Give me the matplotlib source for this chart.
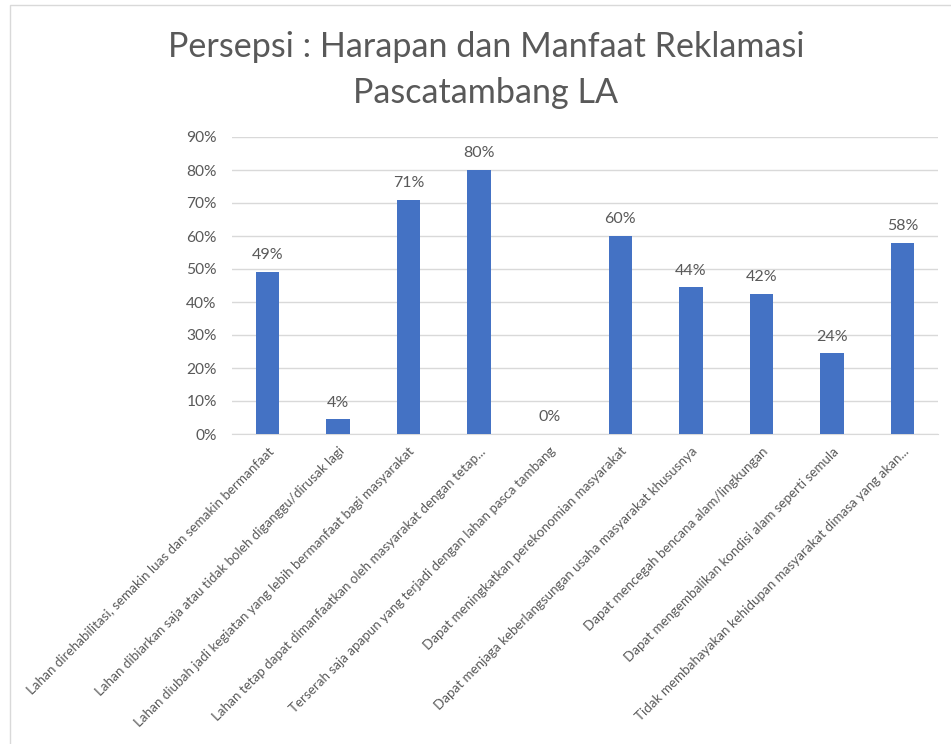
import matplotlib
matplotlib.use("Agg")
import matplotlib.pyplot as plt
import matplotlib.patches as patches
from matplotlib.ticker import PercentFormatter

plt.rcParams['font.family'] = ['Lato', 'DejaVu Sans']

# data
kategori = [
    "Lahan direhabilitasi, semakin luas dan semakin bermanfaat",
    "Lahan dibiarkan saja atau tidak boleh diganggu/dirusak lagi",
    "Lahan diubah jadi kegiatan yang lebih bermanfaat bagi masyarakat",
    "Lahan tetap dapat dimanfaatkan oleh masyarakat dengan tetap...",
    "Terserah saja apapun yang terjadi dengan lahan pasca tambang",
    "Dapat meningkatkan perekonomian masyarakat",
    "Dapat menjaga keberlangsungan usaha masyarakat khususnya",
    "Dapat mencegah bencana alam/lingkungan",
    "Dapat mengembalikan kondisi alam seperti semula",
    "Tidak membahayakan kehidupan masyarakat dimasa yang akan...",
]
persen = [49, 4.4, 71, 80, 0, 60, 44.4, 42.4, 24.4, 58]
y_ticks = [0, 10, 20, 30, 40, 50, 60, 70, 80, 90]

abu = '#595959'
biru = '#4472C4'

fig = plt.figure(figsize=(9.51, 7.44), dpi=100)
ax = fig.add_axes([232 / 951, 1 - 434 / 744, 706 / 951, 297 / 744])

x = range(len(kategori))
ax.bar(x, persen, width=0.33, color=biru, zorder=3)

# label nilai di atas batang
for i, v in enumerate(persen):
    ax.text(i, v + 3, f"{v:.0f}%", ha='center', va='bottom',
            fontsize=11.5, color=abu)

ax.set_xlim(-0.5, len(kategori) - 0.5)
ax.set_ylim(0, 90)
ax.set_yticks(y_ticks)
ax.yaxis.set_major_formatter(PercentFormatter(decimals=0))
ax.grid(axis='y', color='#d9d9d9', linewidth=1, zorder=0)
for s in ['top', 'right', 'left']:
    ax.spines[s].set_visible(False)
ax.spines['bottom'].set_color('#d9d9d9')
ax.tick_params(axis='y', length=0, pad=11, labelsize=11.2, labelcolor=abu)
ax.tick_params(axis='x', length=0, pad=8)
ax.set_xticks(list(x))
ax.set_xticklabels(kategori, rotation=45, ha='right', va='top',
                   rotation_mode='anchor', fontsize=9.6, color=abu)

# judul
fig.text(486 / 951, 1 - 70 / 744,
         "Persepsi : Harapan dan Manfaat Reklamasi\nPascatambang LA",
         ha='center', va='center', fontsize=24.6, color=abu, linespacing=1.52)

# bingkai chart
bingkai = patches.Rectangle((10 / 951, -0.05), 1.2, 1 - 5 / 744 + 0.05,
                            transform=fig.transFigure, fill=False,
                            edgecolor='#d9d9d9', linewidth=1)
fig.add_artist(bingkai)

fig.savefig('out.png', dpi=100)
